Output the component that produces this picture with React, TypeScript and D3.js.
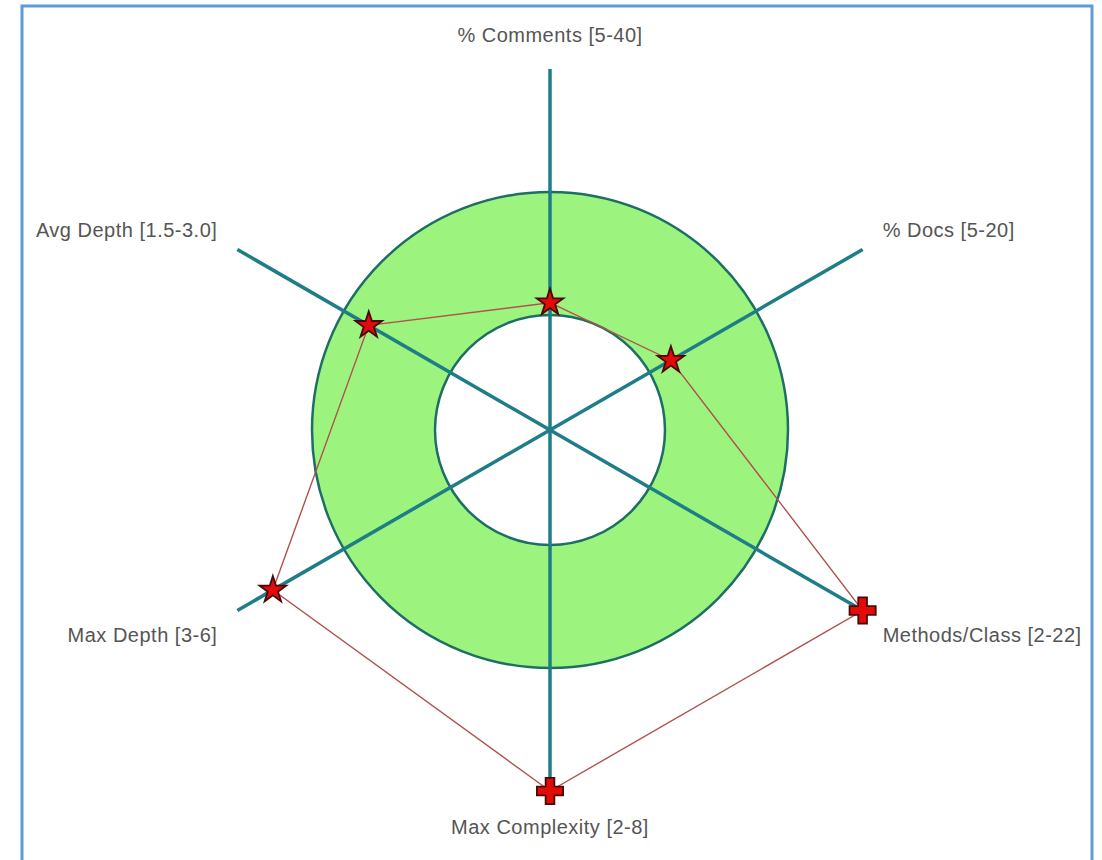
import React from "react";
import * as d3 from "d3";

// axes, clockwise from the top
const axisNames = ["% Comments", "% Docs", "Methods/Class", "Max Complexity", "Max Depth", "Avg Depth"];
const rangeLabels = ["[5-40]", "[5-20]", "[2-22]", "[2-8]", "[3-6]", "[1.5-3.0]"];
const rangeMin = [5, 5, 2, 2, 3, 1.5];
const rangeMax = [40, 20, 22, 8, 6, 3.0];
const values = [8.5, 8, 48, 16, 8, 2.65];

const W = 1102;
const H = 860;
const cx = 550;
const cy = 430;

const App = () => {
  // t = 0 -> low end of range (inner circle), t = 1 -> high end (outer circle)
  const r = d3.scaleLinear().domain([0, 1]).range([115, 238]);
  const tMax = 2; // axis stops at twice the range, values past it are clamped

  const angle = d3.scaleLinear().domain([0, axisNames.length]).range([0, 2 * Math.PI]);
  const pt = (i: number, rad: number): [number, number] => {
    const a = angle(i);
    return [cx + rad * Math.sin(a), cy - rad * Math.cos(a)];
  };

  const pts = values.map((v, i) => {
    const t = (v - rangeMin[i]) / (rangeMax[i] - rangeMin[i]);
    const clamped = t > tMax;
    return { p: pt(i, r(Math.min(t, tMax))), clamped };
  });

  const line = d3.line().curve(d3.curveLinearClosed);
  const star = d3.symbol().type(d3.symbolStar).size(220)();
  const cross = d3.symbol().type(d3.symbolCross).size(380)();

  const ring = d3.arc()({
    innerRadius: r(0),
    outerRadius: r(1),
    startAngle: 0,
    endAngle: 2 * Math.PI,
  } as any);

  return (
    <div style={{ position: "absolute", left: 0, top: 0 }}>
      <svg width={W} height={H} style={{ display: "block", background: "#fff" }}>
        <rect x={22} y={6} width={1070} height={H + 20} fill="#fff" stroke="#5e9bd8" strokeWidth={3} />

        <g transform={`translate(${cx},${cy})`}>
          <path d={ring || ""} fill="#9cf47e" />
          <circle r={r(1)} fill="none" stroke="#1d6e63" strokeWidth={2.5} />
          <circle r={r(0)} fill="none" stroke="#1d6e63" strokeWidth={2.5} />
        </g>

        {axisNames.map((_, i) => {
          const [x2, y2] = pt(i, r(tMax));
          return <line key={i} x1={cx} y1={cy} x2={x2} y2={y2} stroke="#1e7d86" strokeWidth={3.5} />;
        })}

        <path d={line(pts.map((d) => d.p)) || ""} fill="none" stroke="#b0524c" strokeWidth={1.4} />

        {pts.map((d, i) => (
          <path
            key={i}
            d={(d.clamped ? cross : star) || ""}
            transform={`translate(${d.p[0]},${d.p[1]})`}
            fill="#e30a0a"
            stroke="#4a0808"
            strokeWidth={1.8}
          />
        ))}

        {axisNames.map((name, i) => {
          const a = angle(i);
          const [ex, ey] = pt(i, r(tMax));
          const s = Math.sin(a);
          const c = Math.cos(a);
          let x = ex;
          let y = ey;
          let anchor = "middle";
          if (Math.abs(s) < 0.01) {
            y = c > 0 ? ey - 34 : ey + 36;
          } else {
            x = ex + (s > 0 ? 20 : -20);
            y = c > 0 ? ey - 20 : ey + 24;
            anchor = s > 0 ? "start" : "end";
          }
          return (
            <text
              key={i}
              x={x}
              y={y}
              textAnchor={anchor}
              dominantBaseline="central"
              fontFamily="'Liberation Sans', Arial, sans-serif"
              fontSize={20}
              letterSpacing={0.5}
              fill="#555"
            >
              {`${name} ${rangeLabels[i]}`}
            </text>
          );
        })}
      </svg>
    </div>
  );
};

export default App;
